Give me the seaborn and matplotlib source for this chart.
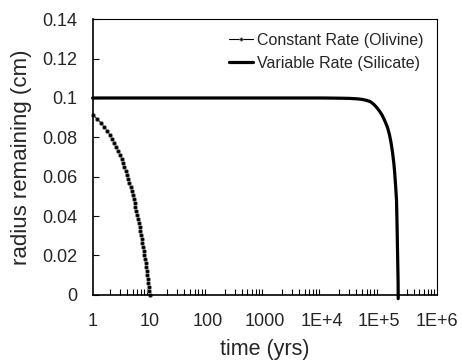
import matplotlib
matplotlib.use("Agg")
import matplotlib.pyplot as plt
import matplotlib.ticker as mticker
import pandas as pd
import seaborn as sns

# Constant rate (olivine)
const_t = [1.0, 1.2, 1.4, 1.6, 1.8, 2.0, 2.2, 2.4, 2.6, 2.8, 3.0, 3.2, 3.4, 3.6, 3.8,
           4.0, 4.2, 4.4, 4.6, 4.8, 5.0, 5.2, 5.4, 5.6, 5.8, 6.0, 6.2, 6.4, 6.6, 6.8,
           7.0, 7.2, 7.4, 7.6, 7.8, 8.0, 8.2, 8.4, 8.6, 8.8, 9.0, 9.2, 9.4, 9.6, 9.8, 10.0]
const_r = [0.0915, 0.0895, 0.0874, 0.0854, 0.0834, 0.0813, 0.0793, 0.0773, 0.0752, 0.0732,
           0.0712, 0.0691, 0.0671, 0.0651, 0.0630, 0.0610, 0.0590, 0.0569, 0.0549, 0.0529,
           0.0508, 0.0488, 0.0468, 0.0447, 0.0427, 0.0407, 0.0386, 0.0366, 0.0346, 0.0325,
           0.0305, 0.0285, 0.0264, 0.0244, 0.0224, 0.0203, 0.0183, 0.0163, 0.0142, 0.0122,
           0.0102, 0.0081, 0.0061, 0.0041, 0.0020, 0.0000]

# Variable rate (silicate)
var_t = [1, 1e4, 2e4, 3e4, 4e4, 5e4, 6e4, 7e4, 8e4, 9e4, 1e5, 1.1e5, 1.2e5, 1.3e5,
         1.4e5, 1.5e5, 1.6e5, 1.7e5, 1.8e5, 1.85e5, 1.9e5, 1.95e5, 2.0e5, 2.04e5,
         2.08e5, 2.11e5, 2.13e5, 2.14e5]
var_r = [0.1, 0.1, 0.0999, 0.0998, 0.0996, 0.0993, 0.0988, 0.0981, 0.0968, 0.0952,
         0.0935, 0.0917, 0.0895, 0.0872, 0.0848, 0.0815, 0.0775, 0.0725, 0.0665,
         0.0625, 0.058, 0.053, 0.048, 0.036, 0.0227, 0.013, 0.006, -0.002]

x_ticks = [1, 10, 100, 1000, 1e4, 1e5, 1e6]
x_labels = ["1", "10", "100", "1000", "1E+4", "1E+5", "1E+6"]
y_ticks = [0, 0.02, 0.04, 0.06, 0.08, 0.1, 0.12, 0.14]
y_labels = ["0", "0.02", "0.04", "0.06", "0.08", "0.1", "0.12", "0.14"]

df_const = pd.DataFrame({"t": const_t, "r": const_r})
df_var = pd.DataFrame({"t": var_t, "r": var_r})

sns.set_theme(style="white")
plt.rcParams["font.family"] = ["Liberation Sans", "DejaVu Sans"]

fig = plt.figure(figsize=(4.63, 3.61), dpi=100)
ax = fig.add_axes([0.200, 0.1837, 0.743, 0.7628])

sns.lineplot(data=df_const, x="t", y="r", ax=ax, color="black", lw=0.8,
             marker="o", markersize=3, markerfacecolor="black",
             markeredgecolor="#999999", markeredgewidth=0.5,
             sort=False, clip_on=False, label="Constant Rate (Olivine)")
sns.lineplot(data=df_var, x="t", y="r", ax=ax, color="black", lw=2.3,
             sort=False, clip_on=False, label="Variable Rate (Silicate)")

ax.set_xscale("log")
ax.set_xlim(1, 1e6)
ax.set_ylim(0, 0.14)
ax.xaxis.set_major_locator(mticker.FixedLocator(x_ticks))
ax.xaxis.set_major_formatter(mticker.FixedFormatter(x_labels))
ax.xaxis.set_minor_locator(mticker.LogLocator(base=10, subs=range(2, 10)))
ax.xaxis.set_minor_formatter(mticker.NullFormatter())
ax.set_yticks(y_ticks)
ax.set_yticklabels(y_labels)

ax.tick_params(axis="x", which="major", direction="in", length=0, pad=13,
               labelsize=13, bottom=True)
ax.tick_params(axis="x", which="minor", direction="in", length=4, width=0.8,
               color="black", bottom=True)
ax.tick_params(axis="y", which="major", direction="in", length=4, width=0.8,
               color="black", pad=11, labelsize=13, left=True)

for s in ax.spines.values():
    s.set_color("black")
    s.set_linewidth(0.8)
ax.spines["bottom"].set_linewidth(1.2)
ax.spines["left"].set_linewidth(1.2)

ax.set_xlabel("time (yrs)", fontsize=15.5, labelpad=7)
ax.set_ylabel("radius remaining (cm)", fontsize=16, labelpad=7)

leg = ax.legend(loc="upper right", frameon=False, fontsize=11.5,
                handlelength=1.5, handletextpad=0.2, labelspacing=0.5,
                borderaxespad=0.45, markerscale=0.8)

fig.savefig("out.png", dpi=100)
